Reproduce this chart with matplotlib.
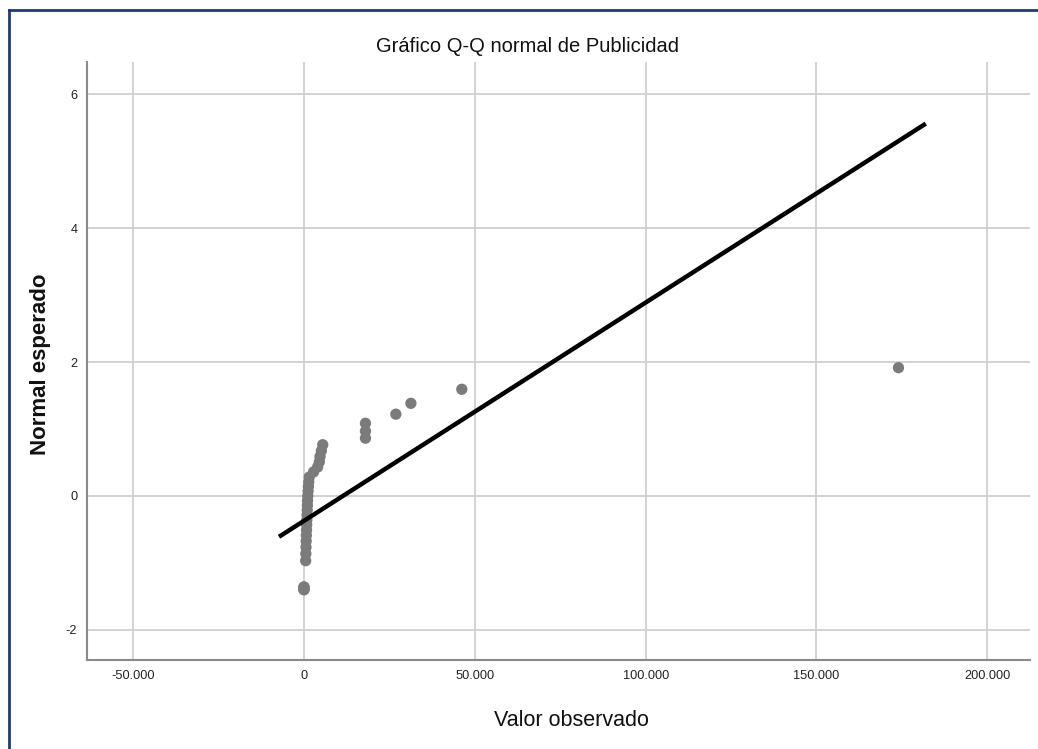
import matplotlib
matplotlib.use("Agg")
import matplotlib.pyplot as plt
from matplotlib.lines import Line2D
from matplotlib.ticker import FuncFormatter

# ── data ──────────────────────────────────────────────────────────────────────
observed = [0, 0, 0, 0, 0,
            500, 550, 600, 650, 700, 750, 800, 850, 900, 950, 1000,
            1050, 1100, 1200, 1300, 1400, 1550, 2800, 4000, 4500, 4700,
            5100, 5500, 18000, 18000, 18000, 26900, 31300, 46200, 174000]
expected = [-1.36, -1.36, -1.383, -1.40, -1.40,
            -0.967, -0.862, -0.765, -0.674, -0.589, -0.509, -0.432, -0.358,
            -0.282, -0.210, -0.140, -0.070, 0.000, 0.070, 0.140, 0.210,
            0.282, 0.358, 0.432, 0.509, 0.589, 0.674, 0.765, 0.862, 0.967,
            1.085, 1.221, 1.383, 1.593, 1.915]
line_x = [-7300, 182000]
line_y = [-0.61, 5.56]

x_ticks = [-50000, 0, 50000, 100000, 150000, 200000]
y_ticks = [-2, 0, 2, 4, 6]

title = "Gráfico Q-Q normal de Publicidad"
x_label = "Valor observado"
y_label = "Normal esperado"

plt.rcParams["font.family"] = ["Liberation Sans", "DejaVu Sans"]
plt.rcParams["axes.unicode_minus"] = False

fig = plt.figure(figsize=(10.38, 7.49), dpi=100)
ax = fig.add_axes([87 / 1038, 1 - 660 / 749, (1030 - 87) / 1038, (660 - 62) / 749])

grid_c = "#cfcfcf"
ax.set_axisbelow(True)
ax.grid(True, color=grid_c, linewidth=1.3)

ax.scatter(observed, expected, s=66, color="#7b7b7b", edgecolors="none", zorder=3)
ax.plot(line_x, line_y, color="black", linewidth=3.2, zorder=4,
        solid_capstyle="butt")

ax.set_xlim(-63500, 212500)
ax.set_ylim(-2.45, 6.48)
ax.set_xticks(x_ticks)
ax.set_yticks(y_ticks)
ax.xaxis.set_major_formatter(FuncFormatter(
    lambda v, _: f"{int(v):,}".replace(",", ".")))
ax.tick_params(length=0, labelsize=9.2, colors="#222222", pad=7)

for side in ("top", "right"):
    ax.spines[side].set_visible(False)
for side in ("left", "bottom"):
    ax.spines[side].set_color("#8a8a8a")
    ax.spines[side].set_linewidth(1.5)

fig.text(528 / 1038, 1 - 46 / 749, title, ha="center", va="center",
         fontsize=14.5, color="#111111")
fig.text(571 / 1038, 1 - 720 / 749, x_label, ha="center", va="center",
         fontsize=15.5, color="#111111")
fig.text(41 / 1038, 1 - 364 / 749, y_label, ha="center", va="center",
         fontsize=16, fontweight="bold", rotation=90, color="#111111")

# dark blue frame (top and left edges only are visible)
border = "#1c3b7c"
fig.add_artist(Line2D([9 / 1038, 1], [1 - 10 / 749] * 2, color=border,
                      linewidth=2, transform=fig.transFigure))
fig.add_artist(Line2D([9 / 1038] * 2, [0, 1 - 10 / 749], color=border,
                      linewidth=2, transform=fig.transFigure))

fig.savefig("out.png", dpi=100)
